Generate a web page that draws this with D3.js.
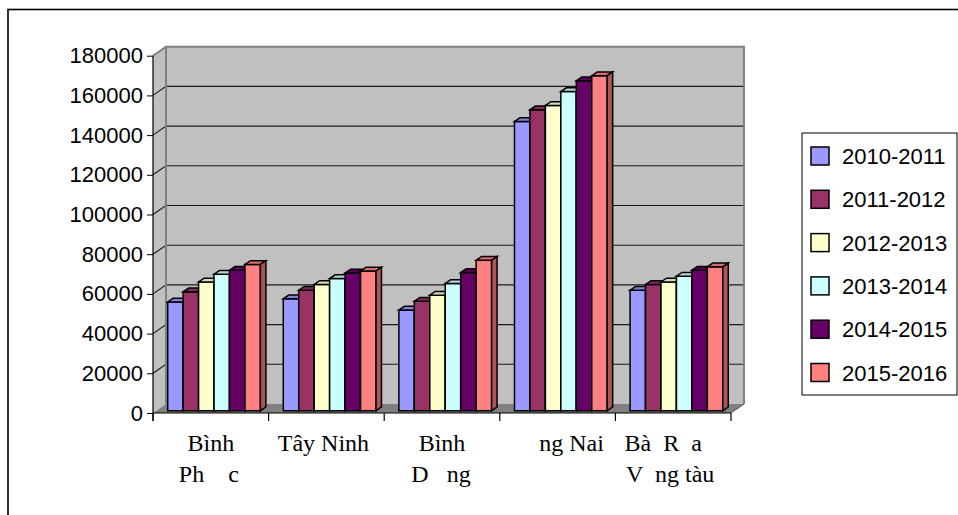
<!DOCTYPE html>
<html>
<head>
<meta charset="utf-8">
<script src="https://cdn.jsdelivr.net/npm/d3@7"></script>
<style>
  html, body { margin: 0; padding: 0; background: #ffffff; overflow: hidden; }
  svg { display: block; }
</style>
</head>
<body>
<svg id="chart" width="958" height="515"></svg>
<script>
// ---- data ----
const provinces = ["Bình Phước", "Tây Ninh", "Bình Dương", "Đồng Nai", "Bà Rịa Vũng tàu"];
// label lines as they are printed under each group
const provinceLabelLines = [
  ["Bình", "Ph    c"],
  ["Tây Ninh"],
  ["Bình", "D   ng"],
  ["ng Nai"],
  ["Bà  R  a", "V  ng tàu"]
];
const seasons = ["2010-2011", "2011-2012", "2012-2013", "2013-2014", "2014-2015", "2015-2016"];
const s2010_2011 = [54800, 56400, 50700, 145700, 60700];
const s2011_2012 = [59900, 60700, 55200, 151600, 63600];
const s2012_2013 = [64900, 63600, 58200, 153800, 64900];
const s2013_2014 = [68800, 66600, 64100, 160800, 67800];
const s2014_2015 = [70800, 69400, 69600, 166200, 70800];
const s2015_2016 = [73700, 70400, 75800, 168800, 72500];
const yTickValues = [0, 20000, 40000, 60000, 80000, 100000, 120000, 140000, 160000, 180000];

const seriesValues = [s2010_2011, s2011_2012, s2012_2013, s2013_2014, s2014_2015, s2015_2016];
const seasonColors = ["#9999ff", "#993366", "#ffffcc", "#ccffff", "#660066", "#ff8080"];

// ---- layout ----
const svg = d3.select("#chart");
const front = { left: 153, right: 731, bottom: 413, top: 55.7 };
const depth = { dx: 13, dy: -9 };          // wall depth of the 3-D box
const barPlane = 0.25;                      // where bars stand inside the depth
const barDepth = 0.42;                      // how deep each bar is
const labelNudge = [[0, -2], [-3], [0, -1], [14], [-10, -3]];

const y = d3.scaleLinear().domain([0, 180000]).range([front.bottom, front.top]);
const x = d3.scaleBand().domain(provinces).range([front.left, front.right]).padding(0);
const xs = d3.scaleBand().domain(seasons).range([0, x.bandwidth()]).paddingInner(0).paddingOuter(0.74);

// chart frame
svg.append("rect")
  .attr("x", 8).attr("y", 9.5).attr("width", 1000).attr("height", 600)
  .attr("fill", "#ffffff").attr("stroke", "#000000").attr("stroke-width", 1.6);

const backTop = y(180000) + depth.dy;
const backBottom = front.bottom + depth.dy;
const backLeft = front.left + depth.dx;
const backRight = front.right + depth.dx;

// back wall
svg.append("rect")
  .attr("x", backLeft).attr("y", backTop)
  .attr("width", backRight - backLeft).attr("height", backBottom - backTop)
  .attr("fill", "#c0c0c0");

// side wall
svg.append("polygon")
  .attr("points", [[front.left, front.bottom], [front.left, y(180000)], [backLeft, backTop], [backLeft, backBottom]].join(" "))
  .attr("fill", "#c0c0c0");

// floor
svg.append("polygon")
  .attr("points", [[front.left, front.bottom], [front.right, front.bottom], [backRight, backBottom], [backLeft, backBottom]].join(" "))
  .attr("fill", "#808080");

// gridlines: diagonal on side wall + horizontal on back wall
const grid = svg.append("g");
yTickValues.filter(v => v > 0 && v < 180000).forEach(v => {
  grid.append("path")
    .attr("d", `M${front.left},${y(v)}L${backLeft},${y(v) + depth.dy}L${backRight},${y(v) + depth.dy}`)
    .attr("fill", "none").attr("stroke", "#1a1a1a").attr("stroke-width", 1.1);
});

// wall edges
svg.append("path")
  .attr("d", `M${front.left},${y(180000)}L${backLeft},${backTop}L${backRight},${backTop}L${backRight},${backBottom}`)
  .attr("fill", "none").attr("stroke", "#808080").attr("stroke-width", 2);
svg.append("line")
  .attr("x1", backLeft).attr("x2", backLeft).attr("y1", backTop).attr("y2", backBottom)
  .attr("stroke", "#808080").attr("stroke-width", 2);
svg.append("line")
  .attr("x1", front.right).attr("y1", front.bottom).attr("x2", backRight).attr("y2", backBottom)
  .attr("stroke", "#555555").attr("stroke-width", 1);

// bars
const bx = depth.dx * barPlane, by = depth.dy * barPlane;
const ddx = depth.dx * barDepth, ddy = depth.dy * barDepth;
const bars = svg.append("g").attr("stroke", "#000000").attr("stroke-width", 1.5).attr("stroke-linejoin", "miter");
provinces.forEach((p, pi) => {
  seasons.forEach((s, si) => {
    const v = seriesValues[si][pi];
    const x0 = x(p) + xs(s) + bx;
    const x1 = x0 + xs.bandwidth();
    const yt = y(v) + by;
    const yb = y(0) + by;
    const base = d3.color(seasonColors[si]);
    // front
    bars.append("rect")
      .attr("x", x0).attr("y", yt).attr("width", x1 - x0).attr("height", yb - yt)
      .attr("fill", base.formatHex());
    // top
    bars.append("polygon")
      .attr("points", [[x0, yt], [x1, yt], [x1 + ddx, yt + ddy], [x0 + ddx, yt + ddy]].join(" "))
      .attr("fill", base.darker(0.45).formatHex());
    // side
    bars.append("polygon")
      .attr("points", [[x1, yt], [x1 + ddx, yt + ddy], [x1 + ddx, yb + ddy], [x1, yb]].join(" "))
      .attr("fill", base.darker(1.1).formatHex());
  });
});

// y axis
const yAxis = d3.axisLeft(y).tickValues(yTickValues).tickFormat(d3.format("d")).tickSize(6).tickPadding(4).tickSizeOuter(0);
const yg = svg.append("g").attr("transform", `translate(${front.left},0)`).call(yAxis);
yg.select(".domain").remove();
yg.selectAll(".tick line").attr("stroke", "#000000");
yg.selectAll(".tick text")
  .attr("font-family", "'Liberation Sans', Arial, sans-serif")
  .attr("font-size", 22).attr("fill", "#000000");
svg.append("line")
  .attr("x1", front.left).attr("x2", front.left).attr("y1", y(180000)).attr("y2", front.bottom + 8)
  .attr("stroke", "#000000").attr("stroke-width", 1.2);

// category axis
svg.append("line")
  .attr("x1", front.left).attr("x2", front.right).attr("y1", front.bottom).attr("y2", front.bottom)
  .attr("stroke", "#000000").attr("stroke-width", 1.2);
const boundaries = provinces.map(p => x(p)).concat([front.right]);
svg.append("g").selectAll("line").data(boundaries).join("line")
  .attr("x1", d => d).attr("x2", d => d)
  .attr("y1", front.bottom).attr("y2", front.bottom + 8)
  .attr("stroke", "#000000").attr("stroke-width", 1.2);

const catLabels = svg.append("g")
  .attr("font-family", "'Liberation Serif', 'Times New Roman', serif")
  .attr("font-size", 24).attr("fill", "#000000").attr("text-anchor", "middle");
provinces.forEach((p, pi) => {
  provinceLabelLines[pi].forEach((line, li) => {
    catLabels.append("text")
      .style("white-space", "pre")
      .attr("x", x(p) + x.bandwidth() / 2 + labelNudge[pi][li])
      .attr("y", 451 + li * 31)
      .text(line);
  });
});

// legend
const legend = svg.append("g");
legend.append("rect")
  .attr("x", 802).attr("y", 133).attr("width", 155).attr("height", 262)
  .attr("fill", "#ffffff").attr("stroke", "#000000").attr("stroke-width", 1);
seasons.forEach((s, i) => {
  const cy = 156 + i * 43.3;
  legend.append("rect")
    .attr("x", 811).attr("y", cy - 9).attr("width", 18).attr("height", 18)
    .attr("fill", seasonColors[i]).attr("stroke", "#000000").attr("stroke-width", 1.5);
  legend.append("text")
    .attr("x", 842).attr("y", cy + 8)
    .attr("font-family", "'Liberation Sans', Arial, sans-serif")
    .attr("font-size", 22).attr("fill", "#000000")
    .text(s);
});
</script>
</body>
</html>
